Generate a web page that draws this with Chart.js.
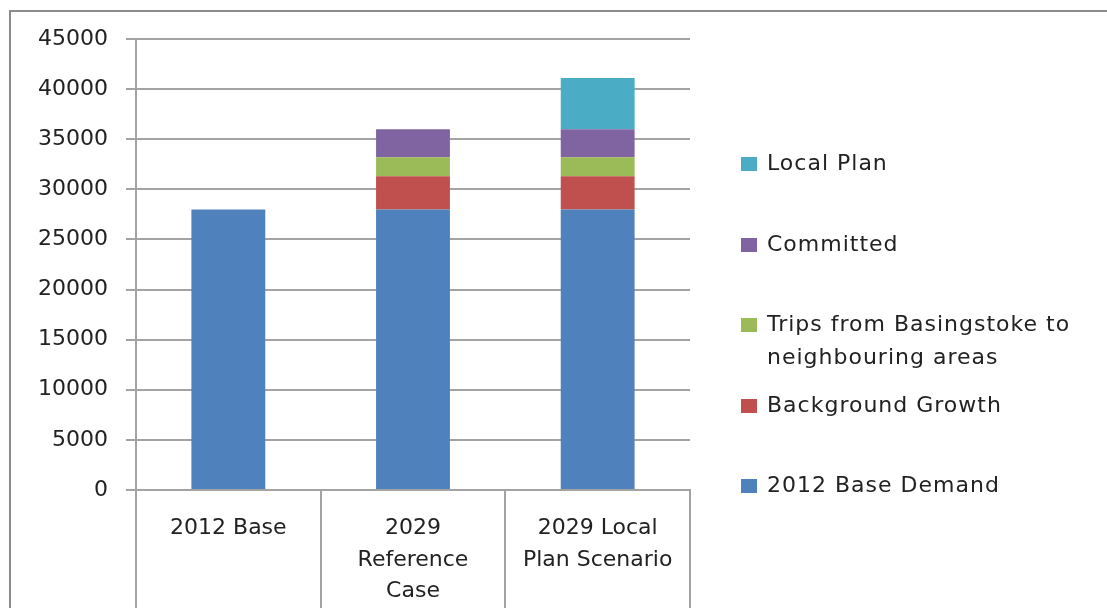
<!DOCTYPE html>
<html>
<head>
<meta charset="utf-8">
<script src="https://cdn.jsdelivr.net/npm/chart.js@4"></script>
<style>
  body { margin: 0; background: #fff; overflow: hidden; }
  #wrap { position: relative; width: 1107px; height: 608px; }
  #frame { position: absolute; left: 9px; top: 10px; width: 1200px; height: 700px; border: 2px solid #8c8c8c; }
  #chart { position: absolute; left: 0; top: 0; }
</style>
</head>
<body>
<div id="wrap">
  <div id="frame"></div>
  <canvas id="chart" width="1107" height="608"></canvas>
</div>
<script>
const categories = ['2012 Base', ['2029', 'Reference', 'Case'], ['2029 Local', 'Plan Scenario']];
const baseDemand = [28000, 28000, 28000];
const backgroundGrowth = [0, 3300, 3300];
const trips = [0, 1900, 1900];
const committed = [0, 2800, 2800];
const localPlan = [0, 0, 5100];

const FONT = '"DejaVu Sans", Verdana, sans-serif';
const TEXT = '#222';
const GRID = '#a3a3a3';

// legend drawn at the right, top item first (reverse of stacking order)
const legendRight = {
  id: 'legendRight',
  afterDraw(chart) {
    const ctx = chart.ctx;
    const rows = [164, 245, 325, 406, 486];
    const items = chart.data.datasets.slice().reverse();
    ctx.save();
    ctx.font = '22px ' + FONT;
    ctx.letterSpacing = '1px';
    ctx.textBaseline = 'middle';
    ctx.textAlign = 'left';
    items.forEach((ds, i) => {
      const y = rows[i];
      ctx.fillStyle = ds.backgroundColor;
      ctx.fillRect(741, y - 7, 16, 14);
      ctx.fillStyle = TEXT;
      // simple word wrap
      const words = ds.label.split(' ');
      let lines = [], cur = '';
      words.forEach(w => {
        const t = cur ? cur + ' ' + w : w;
        if (ctx.measureText(t).width > 330 && cur) { lines.push(cur); cur = w; }
        else cur = t;
      });
      lines.push(cur);
      lines.forEach((l, j) => ctx.fillText(l, 767, y + j * 33));
    });
    ctx.restore();
  }
};

new Chart(document.getElementById('chart'), {
  type: 'bar',
  data: {
    labels: categories,
    datasets: [
      { label: '2012 Base Demand', data: baseDemand, backgroundColor: '#4F81BD' },
      { label: 'Background Growth', data: backgroundGrowth, backgroundColor: '#C0504D' },
      { label: 'Trips from Basingstoke to neighbouring areas', data: trips, backgroundColor: '#9BBB59' },
      { label: 'Committed', data: committed, backgroundColor: '#8064A2' },
      { label: 'Local Plan', data: localPlan, backgroundColor: '#4BACC6' }
    ]
  },
  options: {
    responsive: false,
    animation: false,
    barPercentage: 0.4,
    categoryPercentage: 1,
    layout: { padding: { top: 39, right: 417, left: 0, bottom: 0 } },
    plugins: { legend: { display: false }, tooltip: { enabled: false } },
    scales: {
      x: {
        stacked: true,
        grid: { offset: true, drawOnChartArea: false, color: GRID, lineWidth: 2, tickLength: 118 },
        border: { display: true, color: GRID, width: 2 },
        ticks: {
          maxRotation: 0, autoSkip: false, color: TEXT, padding: -95,
          font: { family: FONT, size: 22, lineHeight: 1.42 }
        },
        afterFit: s => { s.height = 118; }
      },
      y: {
        stacked: true,
        min: 0, max: 45000,
        grid: { color: GRID, lineWidth: 2, tickLength: 10 },
        border: { display: true, color: GRID, width: 2 },
        ticks: {
          stepSize: 5000, color: TEXT, padding: 18,
          font: { family: FONT, size: 22 },
          callback: v => String(v)
        },
        afterFit: s => { s.width = 136; }
      }
    }
  },
  plugins: [legendRight]
});
</script>
</body>
</html>
